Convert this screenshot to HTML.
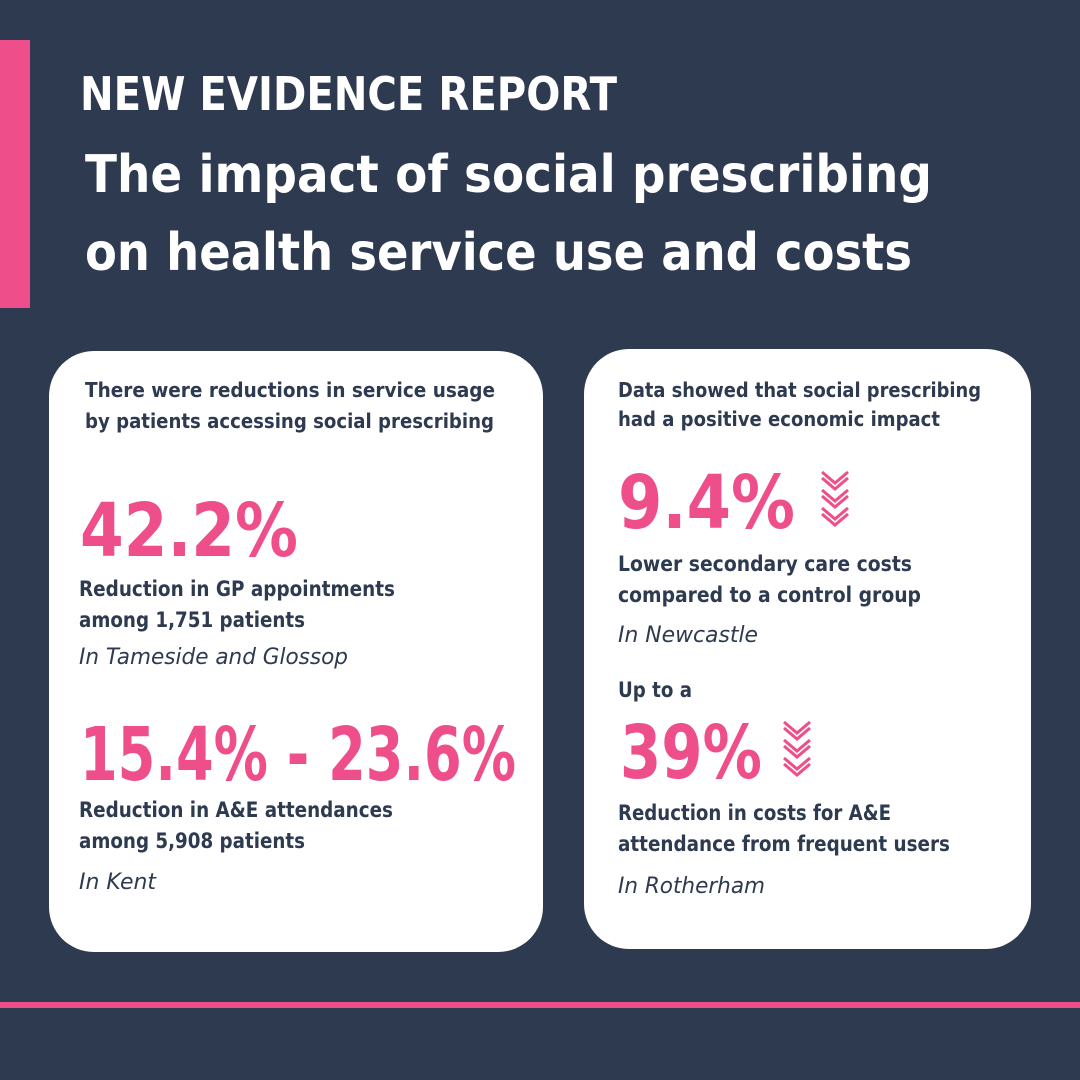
<!DOCTYPE html>
<html><head><meta charset="utf-8"><style>
html,body{margin:0;padding:0;background:#2e3a4f;}
svg{display:block;}
text{font-family:"DejaVu Sans","Liberation Sans",sans-serif;}
.w{fill:#ffffff;font-weight:bold;}
.d{fill:#2e3a4f;font-weight:bold;}
.i{fill:#2e3a4f;font-style:italic;}
.p{fill:#ee4e89;font-weight:bold;}
</style></head><body>
<svg width="1080" height="1080" viewBox="0 0 1080 1080">
<rect x="0" y="0" width="1080" height="1080" fill="#2e3a4f"/>
<rect x="0" y="40" width="30" height="268" fill="#ee4e89"/>
<text class="w" x="80" y="110" font-size="46" textLength="537" lengthAdjust="spacingAndGlyphs">NEW EVIDENCE REPORT</text>
<text class="w" x="85" y="192" font-size="52" textLength="847" lengthAdjust="spacingAndGlyphs">The impact of social prescribing</text>
<text class="w" x="85" y="270" font-size="52" textLength="827" lengthAdjust="spacingAndGlyphs">on health service use and costs</text>

<rect x="49" y="351" width="494" height="601" rx="45" fill="#ffffff"/>
<text class="d" x="85" y="397" font-size="20" textLength="410" lengthAdjust="spacingAndGlyphs">There were reductions in service usage</text>
<text class="d" x="85" y="428" font-size="20" textLength="409" lengthAdjust="spacingAndGlyphs">by patients accessing social prescribing</text>
<text class="p" x="80" y="556" font-size="74" textLength="218" lengthAdjust="spacingAndGlyphs">42.2%</text>
<text class="d" x="79" y="596" font-size="21" textLength="316" lengthAdjust="spacingAndGlyphs">Reduction in GP appointments</text>
<text class="d" x="79" y="627" font-size="21" textLength="226" lengthAdjust="spacingAndGlyphs">among 1,751 patients</text>
<text class="i" x="79" y="664" font-size="22" textLength="269" lengthAdjust="spacingAndGlyphs">In Tameside and Glossop</text>
<text class="p" x="80" y="780" font-size="74" textLength="436" lengthAdjust="spacingAndGlyphs">15.4% - 23.6%</text>
<text class="d" x="79" y="817" font-size="21" textLength="314" lengthAdjust="spacingAndGlyphs">Reduction in A&amp;E attendances</text>
<text class="d" x="79" y="848" font-size="21" textLength="226" lengthAdjust="spacingAndGlyphs">among 5,908 patients</text>
<text class="i" x="79" y="889" font-size="22" textLength="77" lengthAdjust="spacingAndGlyphs">In Kent</text>

<rect x="584" y="349" width="447" height="600" rx="45" fill="#ffffff"/>
<text class="d" x="618" y="397" font-size="20" textLength="363" lengthAdjust="spacingAndGlyphs">Data showed that social prescribing</text>
<text class="d" x="618" y="426" font-size="20" textLength="322" lengthAdjust="spacingAndGlyphs">had a positive economic impact</text>
<text class="p" x="618" y="528" font-size="74" textLength="177" lengthAdjust="spacingAndGlyphs">9.4%</text>
<g fill="none" stroke="#ee4e89" stroke-width="3">
<polyline points="822,472 835,483 848,472"/><polyline points="822,478 835,489 848,478"/>
<polyline points="822,490 835,501 848,490"/><polyline points="822,496 835,507 848,496"/>
<polyline points="822,508 835,519 848,508"/><polyline points="822,514 835,525 848,514"/>
</g>
<text class="d" x="618" y="571" font-size="21" textLength="294" lengthAdjust="spacingAndGlyphs">Lower secondary care costs</text>
<text class="d" x="618" y="602" font-size="21" textLength="303" lengthAdjust="spacingAndGlyphs">compared to a control group</text>
<text class="i" x="618" y="642" font-size="22" textLength="140" lengthAdjust="spacingAndGlyphs">In Newcastle</text>
<text class="d" x="618" y="697" font-size="21" textLength="74" lengthAdjust="spacingAndGlyphs">Up to a</text>
<text class="p" x="620" y="778" font-size="74" textLength="142" lengthAdjust="spacingAndGlyphs">39%</text>
<g fill="none" stroke="#ee4e89" stroke-width="3">
<polyline points="784,722 797,733 810,722"/><polyline points="784,728 797,739 810,728"/>
<polyline points="784,740 797,751 810,740"/><polyline points="784,746 797,757 810,746"/>
<polyline points="784,758 797,769 810,758"/><polyline points="784,764 797,775 810,764"/>
</g>
<text class="d" x="618" y="820" font-size="21" textLength="273" lengthAdjust="spacingAndGlyphs">Reduction in costs for A&amp;E</text>
<text class="d" x="618" y="851" font-size="21" textLength="332" lengthAdjust="spacingAndGlyphs">attendance from frequent users</text>
<text class="i" x="618" y="893" font-size="22" textLength="147" lengthAdjust="spacingAndGlyphs">In Rotherham</text>

<rect x="0" y="1002" width="1080" height="6" fill="#ee4e89"/>
</svg>
</body></html>
